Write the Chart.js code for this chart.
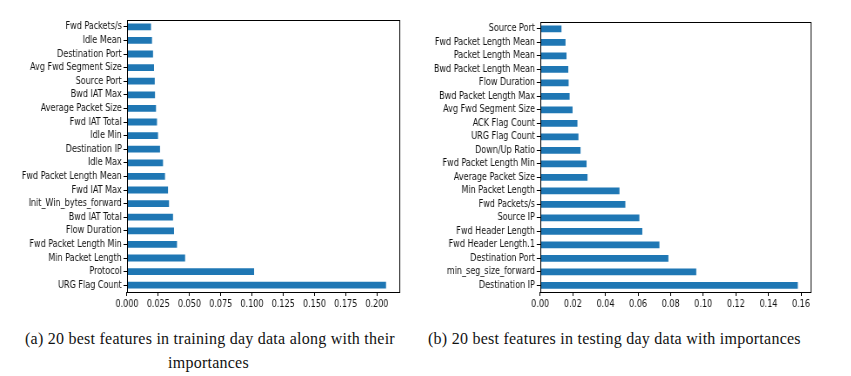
<!DOCTYPE html>
<html>
<head>
<meta charset="utf-8">
<script src="https://cdn.jsdelivr.net/npm/chart.js@4.4.1/dist/chart.umd.min.js"></script>
<style>
  body { margin: 0; background: #fff; width: 851px; height: 376px; position: relative; overflow: hidden; }
  .box { position: absolute; top: 0; height: 320px; }
  .inner { position: absolute; left: 0; top: 0; height: 320px; transform-origin: 0 0; }
  .caption { position: absolute; font-family: "Liberation Serif", "Times New Roman", serif; font-size: 16px; letter-spacing: 0.25px; color: #111; white-space: nowrap; }
</style>
</head>
<body>
<div class="box" id="trainBox" style="left:0px; width:410px;"><div class="inner" id="trainInner"><canvas id="trainChart"></canvas></div></div>
<div class="box" id="testBox" style="left:420px; width:420px;"><div class="inner" id="testInner"><canvas id="testChart"></canvas></div></div>
<div class="caption" style="left:25px; top:330px;">(a) 20 best features in training day data along with their</div>
<div class="caption" style="left:168px; top:354px;">importances</div>
<div class="caption" style="left:428px; top:330px;">(b) 20 best features in testing day data with importances</div>
<script>
// training day features (top to bottom)
const trainLabels = [
  "Fwd Packets/s", "Idle Mean", "Destination Port", "Avg Fwd Segment Size",
  "Source Port", "Bwd IAT Max", "Average Packet Size", "Fwd IAT Total",
  "Idle Min", "Destination IP", "Idle Max", "Fwd Packet Length Mean",
  "Fwd IAT Max", "Init_Win_bytes_forward", "Bwd IAT Total", "Flow Duration",
  "Fwd Packet Length Min", "Min Packet Length", "Protocol", "URG Flag Count"
];
const trainValues = [
  0.0192, 0.0200, 0.0208, 0.0216,
  0.0222, 0.0224, 0.0232, 0.0240,
  0.0248, 0.0264, 0.0288, 0.0304,
  0.0328, 0.0336, 0.0368, 0.0376,
  0.0400, 0.0465, 0.1017, 0.2073
];

// testing day features (top to bottom)
const testLabels = [
  "Source Port", "Fwd Packet Length Mean", "Packet Length Mean", "Bwd Packet Length Mean",
  "Flow Duration", "Bwd Packet Length Max", "Avg Fwd Segment Size", "ACK Flag Count",
  "URG Flag Count", "Down/Up Ratio", "Fwd Packet Length Min", "Average Packet Size",
  "Min Packet Length", "Fwd Packets/s", "Source IP", "Fwd Header Length",
  "Fwd Header Length.1", "Destination Port", "min_seg_size_forward", "Destination IP"
];
const testValues = [
  0.0130, 0.0155, 0.0161, 0.0172,
  0.0174, 0.0180, 0.0198, 0.0228,
  0.0234, 0.0247, 0.0284, 0.0290,
  0.0486, 0.0522, 0.0608, 0.0626,
  0.0731, 0.0786, 0.0957, 0.1580
];

// the original figure is squeezed horizontally, so the canvases are too
const SQUISH = 0.87;
const tickFont = { family: "DejaVu Sans Condensed, DejaVu Sans, sans-serif", size: 10.3 };

// draws the four spines like matplotlib
const frame = {
  id: "frame",
  afterDraw(chart) {
    const a = chart.chartArea;
    const ctx = chart.ctx;
    ctx.save();
    ctx.strokeStyle = "#000";
    ctx.lineWidth = 1;
    ctx.strokeRect(Math.round(a.left) + 0.5, Math.round(a.top) + 0.5,
      Math.round(a.right - a.left), Math.round(a.bottom - a.top));
    ctx.restore();
  }
};

function makeChart(id, labels, values, opts) {
  const box = document.getElementById(opts.box);
  const inner = document.getElementById(opts.inner);
  inner.style.width = (box.clientWidth / SQUISH) + "px";
  inner.style.transform = "scaleX(" + SQUISH + ")";

  const ctx = document.getElementById(id).getContext("2d");
  return new Chart(ctx, {
    type: "bar",
    data: {
      labels,
      datasets: [{
        data: values,
        backgroundColor: "#1f77b4",
        barPercentage: 0.5,
        categoryPercentage: 1.0
      }]
    },
    options: {
      indexAxis: "y",
      responsive: true,
      maintainAspectRatio: false,
      animation: false,
      layout: { padding: { top: opts.top, right: opts.right / SQUISH, left: 0, bottom: 0 } },
      plugins: { legend: { display: false }, tooltip: { enabled: false } },
      scales: {
        x: {
          min: 0,
          max: opts.max,
          ticks: {
            stepSize: opts.step,
            includeBounds: false,
            color: "#111",
            font: tickFont,
            padding: 2,
            maxRotation: 0,
            callback: v => v.toFixed(opts.digits)
          },
          grid: { drawOnChartArea: false, drawTicks: true, tickLength: 4, color: "#000" },
          border: { display: false },
          afterFit(scale) { scale.height = 28; }
        },
        y: {
          ticks: { color: "#111", font: tickFont, padding: 2, autoSkip: false },
          grid: { drawOnChartArea: false, drawTicks: true, tickLength: 4, color: "#000", offset: false },
          border: { display: false },
          afterFit(scale) { scale.width = opts.axisWidth / SQUISH; }
        }
      }
    },
    plugins: [frame]
  });
}

makeChart("trainChart", trainLabels, trainValues,
  { box: "trainBox", inner: "trainInner", max: 0.2177, step: 0.025, digits: 3, top: 20, right: 11, axisWidth: 127 });
makeChart("testChart", testLabels, testValues,
  { box: "testBox", inner: "testInner", max: 0.166, step: 0.02, digits: 2, top: 22, right: 30, axisWidth: 120 });
</script>
</body>
</html>
